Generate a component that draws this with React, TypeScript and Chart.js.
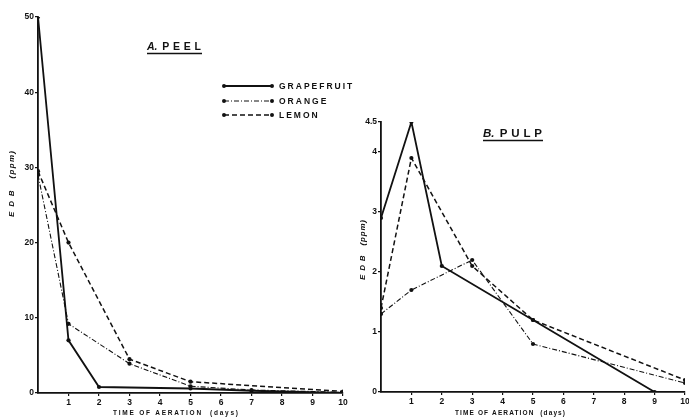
import React, { useEffect, useRef } from "react";
import { Chart, registerables } from "chart.js";

Chart.register(...registerables);

// ---------- DATA ----------
const seriesNames = ["GRAPEFRUIT", "ORANGE", "LEMON"];

// A. PEEL (EDB ppm vs days of aeration)
const peelGrapefruitDays = [0, 1, 2, 5, 7, 10];
const peelGrapefruitPpm = [50, 7, 0.8, 0.6, 0.3, 0];
const peelOrangeDays = [0, 1, 3, 5, 7, 10];
const peelOrangePpm = [29, 9.2, 3.9, 0.9, 0.4, 0.1];
const peelLemonDays = [0, 1, 3, 5, 10];
const peelLemonPpm = [29.5, 20, 4.5, 1.5, 0.2];

// B. PULP
const pulpGrapefruitDays = [0, 1, 2, 5, 9];
const pulpGrapefruitPpm = [2.9, 4.5, 2.1, 1.2, 0];
const pulpOrangeDays = [0, 1, 3, 5, 10];
const pulpOrangePpm = [1.3, 1.7, 2.2, 0.8, 0.15];
const pulpLemonDays = [0, 1, 3, 5, 10];
const pulpLemonPpm = [1.4, 3.9, 2.1, 1.2, 0.2];

const dayTicks = [1, 2, 3, 4, 5, 6, 7, 8, 9, 10];
const peelPpmTicks = [0, 10, 20, 30, 40, 50];
const pulpPpmTicks = [0, 1, 2, 3, 4, 4.5];

const peelTitleLetter = "A.";
const peelTitleWord = "PEEL";
const pulpTitleLetter = "B.";
const pulpTitleWord = "PULP";
const xTitle = "TIME OF AERATION  (days)";
const yTitle = "E D B   (ppm)";

// ---------- STYLE ----------
const FONT = '"Liberation Sans", Arial, Helvetica, sans-serif';
const INK = "#111";
const lineStyles = [
  { width: 1.8, dash: [] as number[] },
  { width: 1.1, dash: [5, 2, 1, 2] },
  { width: 1.5, dash: [5, 3] },
];

function toPoints(xs: number[], ys: number[]) {
  return xs.map((x, i) => ({ x, y: ys[i] }));
}

function fitText(
  ctx: CanvasRenderingContext2D,
  text: string,
  x: number,
  y: number,
  width: number
) {
  (ctx as any).letterSpacing = "0px";
  const natural = ctx.measureText(text).width;
  const n = Math.max(1, text.length - 1);
  const sp = Math.max(0, (width - natural) / n);
  (ctx as any).letterSpacing = sp + "px";
  ctx.fillText(text, x, y);
  (ctx as any).letterSpacing = "0px";
}

type Deco = {
  titleX: number;
  titleY: number;
  titleSize: number;
  titleWidth: number;
  xTitleX: number;
  xTitleW: number;
  yTitleX: number;
  yTitleCY: number;
  yTitleW: number;
  letter: string;
  word: string;
  legend: boolean;
};

function makeDecoPlugin(d: Deco) {
  return {
    id: "deco",
    afterDraw(chart: any) {
      const ctx: CanvasRenderingContext2D = chart.ctx;
      ctx.save();
      ctx.fillStyle = INK;
      ctx.strokeStyle = INK;
      ctx.textBaseline = "alphabetic";
      ctx.textAlign = "left";

      // Panel title, e.g. "A. PEEL"
      ctx.font = `italic bold ${d.titleSize}px ${FONT}`;
      ctx.fillText(d.letter, d.titleX, d.titleY);
      const lw = ctx.measureText(d.letter).width;
      ctx.font = `bold ${d.titleSize}px ${FONT}`;
      const wordX = d.titleX + lw + d.titleSize * 0.45;
      fitText(ctx, d.word, wordX, d.titleY, d.titleX + d.titleWidth - wordX - 1);
      ctx.lineWidth = 1.3;
      ctx.beginPath();
      ctx.moveTo(d.titleX, d.titleY + 3.5);
      ctx.lineTo(d.titleX + d.titleWidth, d.titleY + 3.5);
      ctx.stroke();

      // X axis title
      ctx.font = `bold 6.5px ${FONT}`;
      ctx.textBaseline = "middle";
      fitText(ctx, xTitle, d.xTitleX, 413, d.xTitleW);

      // Y axis title (rotated)
      ctx.save();
      ctx.translate(d.yTitleX, d.yTitleCY);
      ctx.rotate(-Math.PI / 2);
      ctx.font = `italic bold 8px ${FONT}`;
      ctx.textBaseline = "middle";
      fitText(ctx, yTitle, -d.yTitleW / 2, 0, d.yTitleW);
      ctx.restore();

      // Legend
      if (d.legend) {
        const ys = [86, 101, 115];
        chart.data.datasets.forEach((ds: any, i: number) => {
          const y = ys[i];
          ctx.lineWidth = ds.borderWidth;
          ctx.setLineDash(ds.borderDash || []);
          ctx.beginPath();
          ctx.moveTo(224, y);
          ctx.lineTo(272, y);
          ctx.stroke();
          ctx.setLineDash([]);
          ctx.beginPath();
          ctx.arc(224, y, 2, 0, Math.PI * 2);
          ctx.arc(272, y, 2, 0, Math.PI * 2);
          ctx.fill();
          ctx.font = `bold 8.5px ${FONT}`;
          ctx.textBaseline = "middle";
          (ctx as any).letterSpacing = "2px";
          ctx.fillText(ds.label, 279, y + 0.5);
          (ctx as any).letterSpacing = "0px";
        });
      }
      ctx.restore();
    },
  };
}

type PanelOpts = {
  series: { xs: number[]; ys: number[] }[];
  yMax: number;
  yTicks: number[];
  padding: { left: number; right: number; top: number; bottom: number };
  yAxisWidth: number;
  xAxisHeight: number;
  deco: Deco;
};

function makeConfig(p: PanelOpts): any {
  const tickFont = { family: FONT, size: 8.5, weight: "bold" as const };
  return {
    type: "line",
    data: {
      datasets: p.series.map((s, i) => ({
        label: seriesNames[i],
        data: toPoints(s.xs, s.ys),
        borderColor: INK,
        backgroundColor: INK,
        borderWidth: lineStyles[i].width,
        borderDash: lineStyles[i].dash,
        pointRadius: 2.1,
        pointBorderWidth: 0,
        pointBackgroundColor: INK,
        tension: 0,
        fill: false,
      })),
    },
    options: {
      animation: false,
      responsive: false,
      devicePixelRatio: 1,
      layout: { padding: p.padding },
      plugins: {
        legend: { display: false },
        tooltip: { enabled: false },
        title: { display: false },
      },
      scales: {
        x: {
          type: "linear",
          min: 0,
          max: 10,
          afterBuildTicks: (s: any) => {
            s.ticks = dayTicks.map((v) => ({ value: v }));
          },
          afterFit: (s: any) => {
            s.height = p.xAxisHeight;
          },
          ticks: {
            color: INK,
            font: tickFont,
            padding: 2,
            maxRotation: 0,
            autoSkip: false,
          },
          grid: {
            drawOnChartArea: false,
            drawTicks: true,
            tickLength: 3,
            color: INK,
            lineWidth: 1.2,
          },
          border: { display: true, color: INK, width: 1.8 },
        },
        y: {
          type: "linear",
          min: 0,
          max: p.yMax,
          afterBuildTicks: (s: any) => {
            s.ticks = p.yTicks.map((v) => ({ value: v }));
          },
          afterFit: (s: any) => {
            s.width = p.yAxisWidth;
          },
          ticks: {
            color: INK,
            font: tickFont,
            padding: 1,
            autoSkip: false,
          },
          grid: {
            drawOnChartArea: false,
            drawTicks: true,
            tickLength: 3,
            color: INK,
            lineWidth: 1.2,
          },
          border: { display: true, color: INK, width: 1.8 },
        },
      },
    },
    plugins: [makeDecoPlugin(p.deco)],
  };
}

export default function App() {
  const leftRef = useRef<HTMLCanvasElement>(null);
  const rightRef = useRef<HTMLCanvasElement>(null);

  useEffect(() => {
    const left = new Chart(
      leftRef.current as HTMLCanvasElement,
      makeConfig({
        series: [
          { xs: peelGrapefruitDays, ys: peelGrapefruitPpm },
          { xs: peelOrangeDays, ys: peelOrangePpm },
          { xs: peelLemonDays, ys: peelLemonPpm },
        ],
        yMax: 50,
        yTicks: peelPpmTicks,
        padding: { left: 0, right: 17, top: 17, bottom: 0 },
        yAxisWidth: 38,
        xAxisHeight: 25,
        deco: {
          titleX: 147,
          titleY: 50,
          titleSize: 10.5,
          titleWidth: 55,
          xTitleX: 113,
          xTitleW: 125,
          yTitleX: 12,
          yTitleCY: 184,
          yTitleW: 66,
          letter: peelTitleLetter,
          word: peelTitleWord,
          legend: true,
        },
      })
    );
    const right = new Chart(
      rightRef.current as HTMLCanvasElement,
      makeConfig({
        series: [
          { xs: pulpGrapefruitDays, ys: pulpGrapefruitPpm },
          { xs: pulpOrangeDays, ys: pulpOrangePpm },
          { xs: pulpLemonDays, ys: pulpLemonPpm },
        ],
        yMax: 4.5,
        yTicks: pulpPpmTicks,
        padding: { left: 0, right: 20, top: 122, bottom: 0 },
        yAxisWidth: 36,
        xAxisHeight: 26,
        deco: {
          titleX: 138,
          titleY: 137,
          titleSize: 11.5,
          titleWidth: 60,
          xTitleX: 110,
          xTitleW: 110,
          yTitleX: 18,
          yTitleCY: 250,
          yTitleW: 60,
          letter: pulpTitleLetter,
          word: pulpTitleWord,
          legend: false,
        },
      })
    );
    return () => {
      left.destroy();
      right.destroy();
    };
  }, []);

  return (
    <div
      style={{
        position: "fixed",
        left: 0,
        top: 0,
        width: 689,
        height: 418,
        overflow: "hidden",
        background: "#fff",
      }}
    >
      <canvas
        ref={leftRef}
        width={360}
        height={418}
        style={{ position: "absolute", left: 0, top: 0 }}
      />
      <canvas
        ref={rightRef}
        width={360}
        height={418}
        style={{ position: "absolute", left: 345, top: 0 }}
      />
    </div>
  );
}
